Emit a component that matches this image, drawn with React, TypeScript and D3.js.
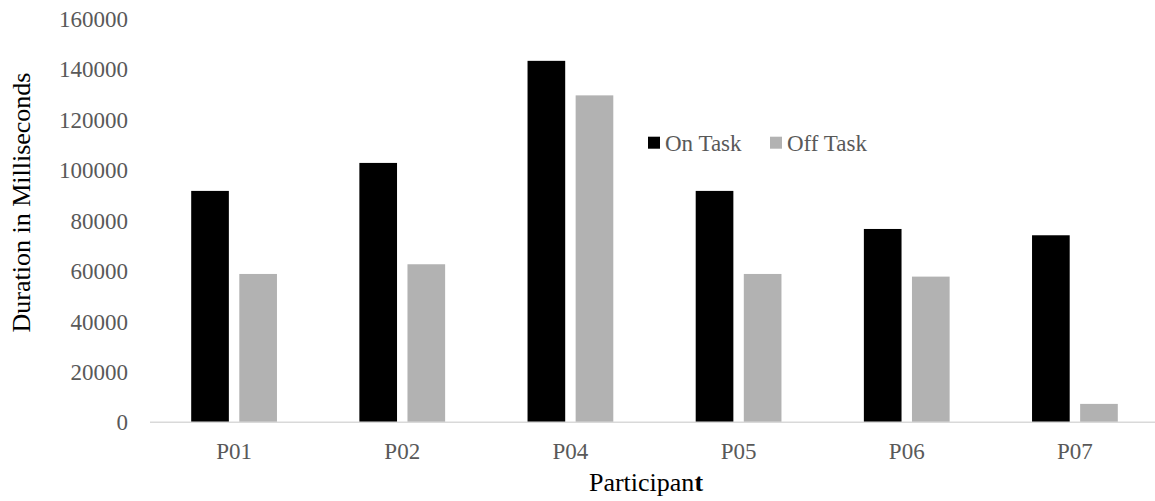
import React, { useEffect, useRef } from 'react'
import * as d3 from 'd3'

// participants and the two series
const participants = ['P01', 'P02', 'P04', 'P05', 'P06', 'P07']
const seriesNames = ['On Task', 'Off Task']
const onTask = [91800, 102900, 143400, 91800, 76700, 74200]
const offTask = [58850, 62700, 129700, 58850, 57800, 7300]
const yTicks = [0, 20000, 40000, 60000, 80000, 100000, 120000, 140000, 160000]

const width = 1155
const height = 501
const colors = ['#000000', '#b2b2b2']

const App = () => {
    const ref = useRef<SVGSVGElement>(null)

    useEffect(() => {
        const svg = d3.select(ref.current)
        svg.selectAll('*').remove()

        const font = '"Liberation Serif", "Times New Roman", serif'

        const x0 = d3.scaleBand()
            .domain(participants)
            .range([150, 1159])
            .paddingInner(0.49)
            .paddingOuter(0.245)

        const x1 = d3.scaleBand()
            .domain(seriesNames)
            .range([0, x0.bandwidth()])
            .paddingInner(0.217)

        const y = d3.scaleLinear()
            .domain([0, 160000])
            .range([422.3, 19])

        const rows = participants.map((p, i) => ({ p, values: [onTask[i], offTask[i]] }))

        // bars
        const groups = svg.selectAll('g.grp')
            .data(rows)
            .join('g')
            .attr('class', 'grp')
            .attr('transform', d => `translate(${x0(d.p)},0)`)

        groups.selectAll('rect')
            .data(d => d.values.map((v, k) => ({ key: seriesNames[k], v, k })))
            .join('rect')
            .attr('x', d => x1(d.key) as number)
            .attr('width', x1.bandwidth())
            .attr('y', d => y(d.v))
            .attr('height', d => y(0) - y(d.v))
            .attr('fill', d => colors[d.k])

        // x axis line
        svg.append('line')
            .attr('x1', 150)
            .attr('x2', width)
            .attr('y1', y(0))
            .attr('y2', y(0))
            .attr('stroke', '#d9d9d9')
            .attr('stroke-width', 1.5)

        // y tick labels
        svg.selectAll('text.ytick')
            .data(yTicks)
            .join('text')
            .attr('class', 'ytick')
            .attr('x', 128)
            .attr('y', d => y(d))
            .attr('dy', '0.35em')
            .attr('text-anchor', 'end')
            .attr('fill', '#595959')
            .style('font-family', font)
            .style('font-size', '23px')
            .text(d => d)

        // x tick labels
        svg.selectAll('text.xtick')
            .data(participants)
            .join('text')
            .attr('class', 'xtick')
            .attr('x', d => (x0(d) as number) + x0.bandwidth() / 2)
            .attr('y', 458.5)
            .attr('text-anchor', 'middle')
            .attr('fill', '#595959')
            .style('font-family', font)
            .style('font-size', '23px')
            .text(d => d)

        // axis titles
        const xt = svg.append('text')
            .attr('x', 646)
            .attr('y', 491)
            .attr('text-anchor', 'middle')
            .attr('fill', '#000')
            .style('font-family', font)
            .style('font-size', '26px')
        xt.append('tspan').text('Participan')
        xt.append('tspan').attr('font-weight', 'bold').text('t')

        svg.append('text')
            .attr('transform', 'translate(30,202.5) rotate(-90)')
            .attr('text-anchor', 'middle')
            .attr('fill', '#000')
            .style('font-family', font)
            .style('font-size', '26px')
            .text('Duration in Milliseconds')

        // legend
        const legendX = [648, 770]
        const lg = svg.selectAll('g.legend')
            .data(seriesNames)
            .join('g')
            .attr('class', 'legend')
            .attr('transform', (d, i) => `translate(${legendX[i]},136.7)`)
        lg.append('rect')
            .attr('width', 12)
            .attr('height', 12)
            .attr('fill', (d, i) => colors[i])
        lg.append('text')
            .attr('x', 17)
            .attr('y', 6)
            .attr('dy', '0.35em')
            .attr('fill', '#595959')
            .style('font-family', font)
            .style('font-size', '23px')
            .text(d => d)
    }, [])

    return (
        <svg
            ref={ref}
            width={width}
            height={height}
            style={{ position: 'absolute', left: 0, top: 0, background: '#fff' }}
        />
    )
}

export default App
